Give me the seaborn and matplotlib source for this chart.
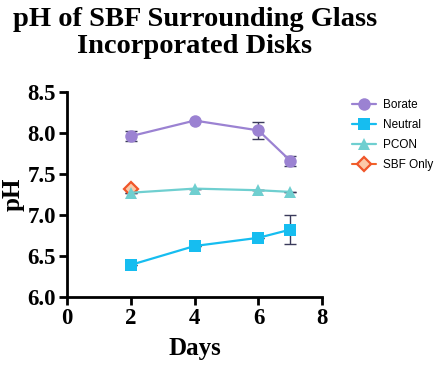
import matplotlib
matplotlib.use("Agg")
import matplotlib.pyplot as plt
import seaborn as sns
import pandas as pd

# data
days = [2, 4, 6, 7]
borate = [7.96, 8.15, 8.03, 7.66]
borate_err = [0.06, 0.0, 0.10, 0.06]
neutral = [6.39, 6.62, 6.72, 6.82]
neutral_err = [0.0, 0.0, 0.0, 0.18]
pcon = [7.27, 7.32, 7.30, 7.28]
pcon_err = [0.0, 0.0, 0.0, 0.0]
sbf_days = [2]
sbf_only = [7.32]

groups = ["Borate", "Neutral", "PCON", "SBF Only"]
colors = ["#9b82d2", "#16bdf0", "#6fcfd0", "#f0622a"]
markers = ["o", "s", "^", "D"]

sns.set_style("ticks")
plt.rcParams["text.color"] = "black"
plt.rcParams["xtick.color"] = "black"
plt.rcParams["ytick.color"] = "black"
plt.rcParams["axes.labelcolor"] = "black"
serif = ["Liberation Serif", "DejaVu Serif"]

fig = plt.figure(figsize=(4.36, 3.66), dpi=100)
ax = fig.add_axes([0.154, 0.189, 0.585, 0.56])

# error bars first so markers sit on top
for vals, errs in zip([borate, neutral, pcon], [borate_err, neutral_err, pcon_err]):
    ax.errorbar(days, vals, yerr=errs, fmt="none", ecolor="#3a3a5a", elinewidth=1.0,
                capsize=4, capthick=1.0, zorder=2)

series = [(days, borate), (days, neutral), (days, pcon), (sbf_days, sbf_only)]
for (xs, ys), name, c, m in zip(series, groups, colors, markers):
    d = pd.DataFrame({"Days": xs, "pH": ys})
    if name == "SBF Only":
        sns.lineplot(data=d, x="Days", y="pH", ax=ax, label=name, color=c,
                     marker=m, markersize=7, markerfacecolor="#fbc9a8",
                     markeredgecolor="#f0562a", markeredgewidth=1.6, zorder=2.5)
    else:
        sns.lineplot(data=d, x="Days", y="pH", ax=ax, label=name, color=c,
                     marker=m, markersize=9, markeredgewidth=0, linewidth=1.6, zorder=3)

ax.set_xlim(0, 8)
ax.set_ylim(6.0, 8.5)
ax.set_xticks([0, 2, 4, 6, 8])
ax.set_yticks([6.0, 6.5, 7.0, 7.5, 8.0, 8.5])
ax.set_yticklabels(["6.0", "6.5", "7.0", "7.5", "8.0", "8.5"])
sns.despine(ax=ax)
for s in ["left", "bottom"]:
    ax.spines[s].set_linewidth(2)
    ax.spines[s].set_color("black")
ax.tick_params(width=2, length=6, color="black", pad=2)
for lab in ax.get_xticklabels() + ax.get_yticklabels():
    lab.set_fontfamily(serif)
    lab.set_fontweight("bold")
    lab.set_fontsize(16.5)

ax.set_xlabel("Days", fontsize=18, fontweight="bold", family=serif, labelpad=6)
ax.set_ylabel("pH", fontsize=18, fontweight="bold", family=serif, labelpad=2)
ax.set_title("pH of SBF Surrounding Glass\nIncorporated Disks", fontsize=20.5,
             fontweight="bold", family=serif, pad=28, linespacing=1.1)

handles, labels = ax.get_legend_handles_labels()
leg = ax.legend(handles, labels, loc="upper left", bbox_to_anchor=(1.10, 0.99),
                frameon=False, handlelength=2.0, handletextpad=0.6, labelspacing=0.68,
                borderaxespad=0.0,
                prop={"family": ["Liberation Sans", "DejaVu Sans"], "size": 8.5})

fig.savefig("out.png", dpi=100)
